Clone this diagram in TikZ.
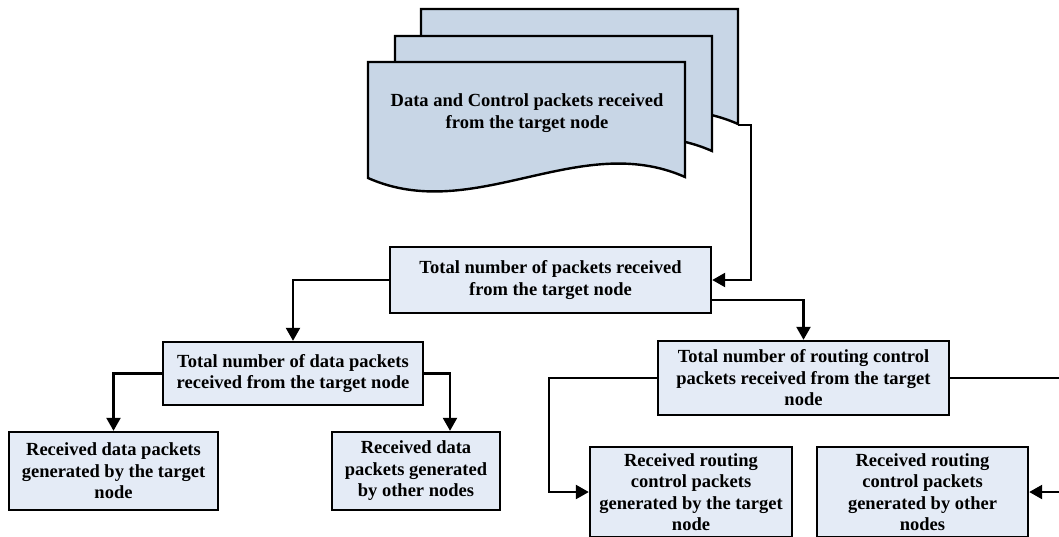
\documentclass[tikz,border=0pt]{standalone}
\usepackage{fontspec}
\setmainfont{Liberation Serif}
\usetikzlibrary{arrows.meta}
\definecolor{doccol}{RGB}{200,214,230}
\definecolor{boxcol}{RGB}{228,235,246}
\tikzset{
  txt/.style={align=center, font=\fontsize{18.5}{21.5}\selectfont\bfseries},
  pbox/.style={txt, draw=black, fill=boxcol, line width=2.4pt, rectangle, inner sep=0pt},
  docshape/.style={draw=black, fill=doccol, line width=2.4pt, line join=miter},
  arr/.style={line width=2.4pt, -{Triangle[length=13pt,width=14pt]}},
}
\begin{document}
\begin{tikzpicture}[x=1pt,y=-1pt]
\useasboundingbox (0,0) rectangle (1059,536);
\clip (0,0) rectangle (1059,536);
% stacked documents
\foreach \dx/\dy in {53/-53, 27/-26, 0/0}{
  \begin{scope}[shift={(\dx,\dy)}]
    \path[docshape] (368,178) -- (368,62) -- (685,62) -- (685,177)
      .. controls (579,130) and (474,225) .. (368,178) -- cycle;
  \end{scope}
}
\coordinate (bc) at (738,125);
\node[txt] (doc) at (527,113)
  {Data and Control packets received\\from the target node};
% boxes
\node[pbox, minimum width=321pt, minimum height=66pt] (total) at (550.5,280)
  {Total number of packets received\\from the target node};
\node[pbox, minimum width=260pt, minimum height=63pt] (data) at (293,373.5)
  {Total number of data packets\\received from the target node};
\node[pbox, minimum width=209pt, minimum height=78pt] (dl) at (113.5,471)
  {Received data packets\\generated by the target\\node};
\node[pbox, minimum width=168pt, minimum height=78pt] (dr) at (416,471)
  {Received data\\packets generated\\by other nodes};
\node[pbox, minimum width=291pt, minimum height=74pt] (route) at (803.5,378)
  {Total number of routing control\\packets received from the target\\node};
\node[pbox, minimum width=202pt, minimum height=90pt] (rl) at (691,492)
  {Received routing\\control packets\\generated by the target\\node};
\node[pbox, minimum width=211pt, minimum height=90pt] (rr) at (922.5,492)
  {Received routing\\control packets\\generated by other\\nodes};
% connectors
\draw[arr] (bc) -- ++(13,0) |- (total.east);
\draw[arr] (total.west) -| (data.north);
\draw[arr] ([yshift=14pt]total.south east) -| (route.north);
\draw[arr] (data.west) -| (dl.north);
\draw[arr] (data.east) -| ([xshift=34pt]dr.north);
\draw[arr] (route.west) -- ++(-108,0) |- (rl.west);
\draw[arr] (route.east) -- ++(121,0) |- (rr.east);
\end{tikzpicture}
\end{document}
